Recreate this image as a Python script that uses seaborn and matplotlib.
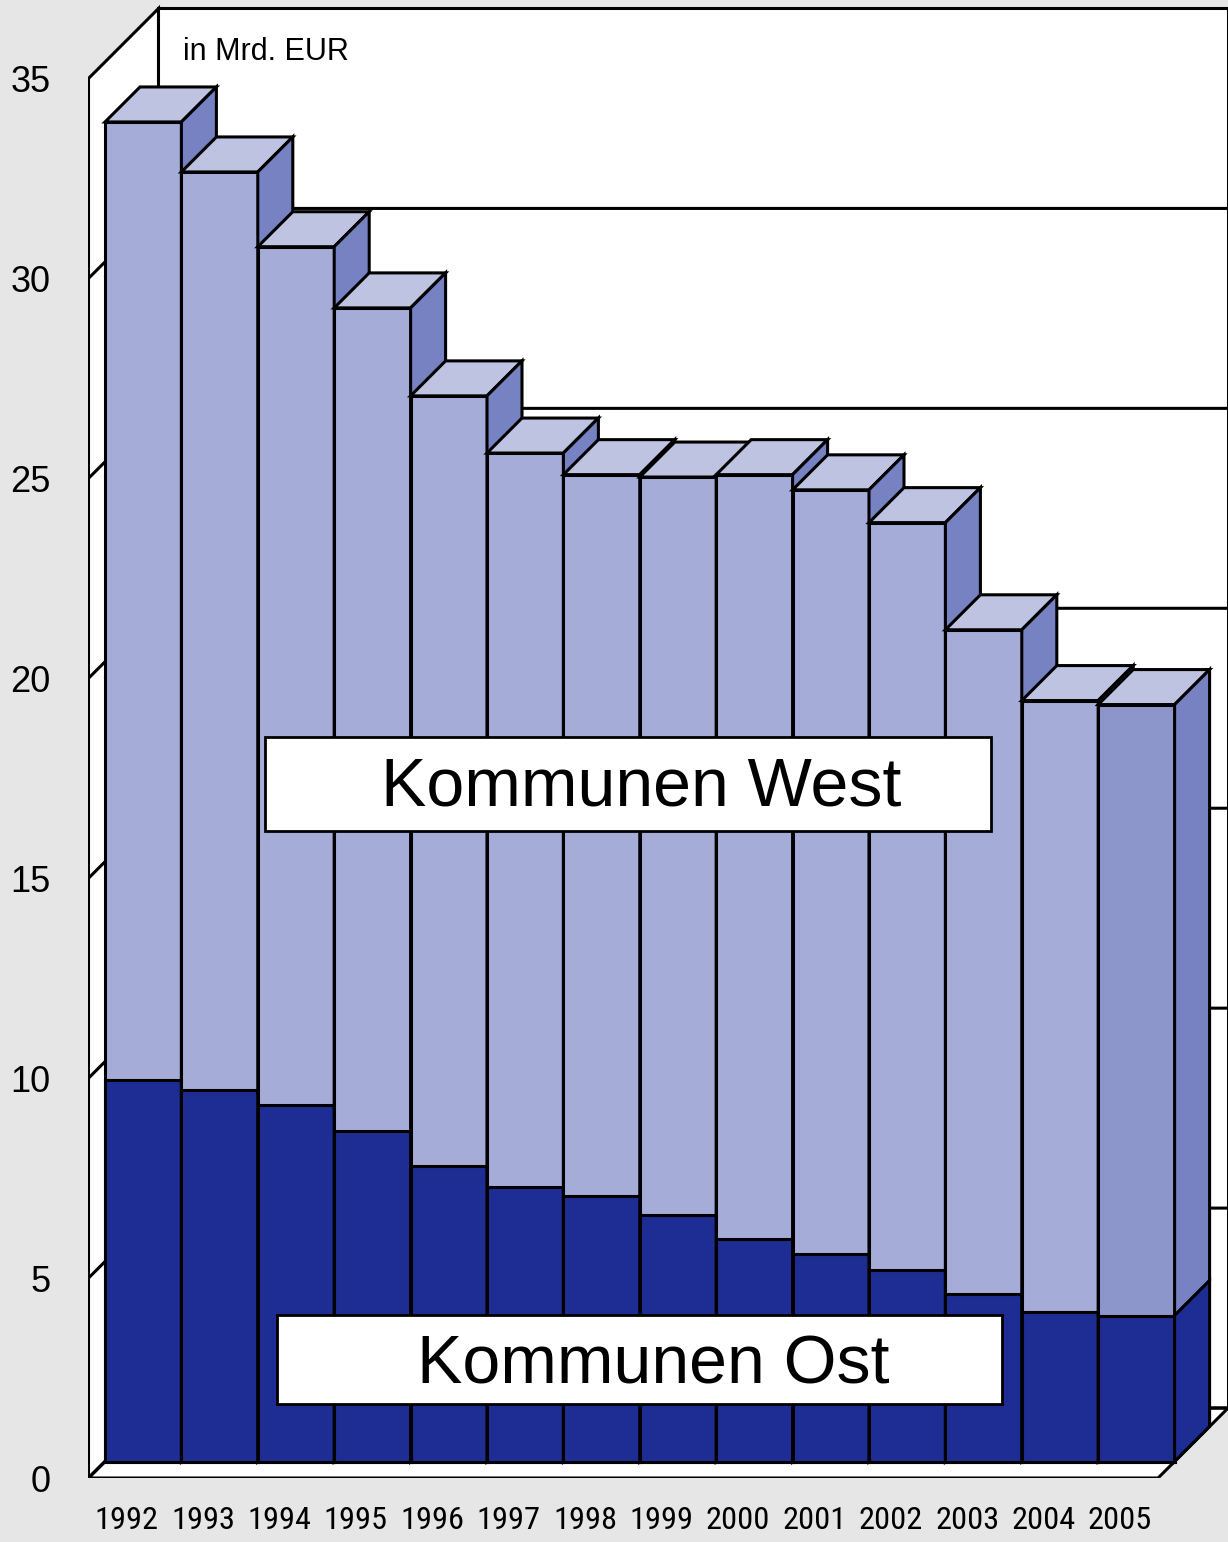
import numpy as np
import pandas as pd
import matplotlib
matplotlib.use("Agg")
import matplotlib.pyplot as plt
import seaborn as sns
from matplotlib import font_manager
from matplotlib.font_manager import FontProperties
from matplotlib.patches import Polygon, Rectangle

years = ['1992', '1993', '1994', '1995', '1996', '1997', '1998',
         '1999', '2000', '2001', '2002', '2003', '2004', '2005']
ost = [9.55, 9.28, 8.92, 8.26, 7.38, 6.86, 6.65, 6.17, 5.57, 5.20, 4.79, 4.19, 3.75, 3.65]
west = [23.95, 22.97, 21.46, 20.59, 19.27, 18.36, 18.03, 18.45, 19.11, 19.10, 18.69, 16.61, 15.28, 15.28]
y_ticks = [0, 5, 10, 15, 20, 25, 30, 35]

west_front = '#a5acd8'
west_front_last = '#8c96cb'
west_top = '#bec3e2'
west_side = '#7682c2'
ost_col = '#1e2d94'
bg = '#e6e6e6'

sns.set_theme(style='white')
plt.rcParams['font.family'] = ['Liberation Sans', 'DejaVu Sans']


def pick_narrow_font():
    # the year labels use a narrow face (Arial Narrow like)
    fonts = [f for f in font_manager.fontManager.ttflist
             if f.style == 'normal' and f.weight in (400, 'normal', 'regular')]
    for want in ['Liberation Sans Narrow', 'Roboto Condensed', 'Open Sans Condensed']:
        for f in fonts:
            if f.name == want:
                return FontProperties(fname=f.fname)
    for f in fonts:
        if f.name == 'DejaVu Sans' and 'condensed' in str(f.stretch):
            return FontProperties(fname=f.fname)
    for f in fonts:
        if 'Condensed' in f.fname or 'Narrow' in f.fname:
            return FontProperties(fname=f.fname)
    return FontProperties(family='Liberation Sans')


df = pd.DataFrame({'Jahr': years, 'Ost': ost, 'West': west})
df['Gesamt'] = df['Ost'] + df['West']

W, H = 1228, 1542
fig = plt.figure(figsize=(W / 100, H / 100), dpi=100, facecolor=bg)
ax = fig.add_axes([88 / W, (H - 1478) / H, (W - 88) / W, 1478 / H])
ax.set_facecolor('none')

# pixel -> data scale, and the pseudo 3d depth offsets (in pixels)
PX = 1 / 76.4
PY = 1 / 40
d_front = -16.5
d_back = 53.5
depth = 35
lw = 2.2


def at(x, y, d):
    return (x + d * PX, y + d * PY)


x0, x1 = -0.5, len(years) - 0.5
top = y_ticks[-1]

# front faces
pal = [west_front] * (len(years) - 1) + [west_front_last]
sns.barplot(data=df, x='Jahr', y='Gesamt', hue='Jahr', palette=pal, legend=False,
            order=years, width=1, errorbar=None, edgecolor='black', linewidth=lw,
            saturation=1, ax=ax)
n_west = len(ax.patches)
sns.barplot(data=df, x='Jahr', y='Ost', order=years, color=ost_col, saturation=1,
            width=1, errorbar=None, edgecolor='black', linewidth=lw, ax=ax)

for k, p in enumerate(list(ax.patches)):
    i = int(round(p.get_x() + p.get_width() / 2))
    p.set_zorder(3 + i * 0.1 + (0.01 if k >= n_west else 0))

# walls and floor
walls = [
    [at(x0, 0, d_front), at(x0, top, d_front), at(x0, top, d_back), at(x0, 0, d_back)],
    [at(x0, 0, d_back), at(x0, top, d_back), at(x1, top, d_back), at(x1, 0, d_back)],
    [at(x0, 0, d_front), at(x1, 0, d_front), at(x1, 0, d_back), at(x0, 0, d_back)],
]
for w in walls:
    ax.add_patch(Polygon(w, closed=True, fc='white', ec='black', lw=lw,
                         joinstyle='miter', zorder=0.5))

for v in y_ticks[:-1]:
    pts = [at(x0, v, d_front), at(x0, v, d_back), at(x1, v, d_back)]
    ax.plot([p[0] for p in pts], [p[1] for p in pts], color='black', lw=lw, zorder=0.6)

# top and side faces
for i, (o, t) in enumerate(zip(df['Ost'], df['Gesamt'])):
    xl, xr = i - 0.5, i + 0.5
    faces = [
        ([at(xl, t, 0), at(xr, t, 0), at(xr, t, depth), at(xl, t, depth)], west_top, 0.02),
        ([at(xr, o, 0), at(xr, t, 0), at(xr, t, depth), at(xr, o, depth)], west_side, 0.03),
        ([at(xr, 0, 0), at(xr, o, 0), at(xr, o, depth), at(xr, 0, depth)], ost_col, 0.03),
    ]
    for pts, c, dz in faces:
        ax.add_patch(Polygon(pts, closed=True, fc=c, ec='black', lw=lw,
                             joinstyle='miter', zorder=3 + i * 0.1 + dz))

ax.set_xlim(-0.7225, 14.199)
ax.set_ylim(-0.4, 36.55)
ax.set_xticks(np.arange(len(years)) + d_front * PX, labels=years)
ax.set_yticks(np.array(y_ticks) + d_front * PY, labels=[str(v) for v in y_ticks])
ax.tick_params(axis='both', length=0, colors='black')
ax.tick_params(axis='y', pad=27, labelsize=26)
ax.tick_params(axis='x', pad=20)
for s in ax.spines.values():
    s.set_visible(False)
ax.set_xlabel('')
ax.set_ylabel('')

# year labels: narrow face, size fitted so "1992" is about 64 px wide
year_fp = pick_narrow_font()
renderer = fig.canvas.get_renderer()
probe = fig.text(0, 0, years[0], fontproperties=year_fp, fontsize=25)
w25 = probe.get_window_extent(renderer).width
probe.remove()
year_size = min(27, 25 * 64 / w25)
for lab in ax.get_xticklabels():
    lab.set_fontproperties(year_fp)
    lab.set_fontsize(year_size)

# labels
boxes = [(265, 737, 991, 831, 641, 805, 'Kommunen West'),
         (277, 1315, 1002, 1404, 653, 1384, 'Kommunen Ost')]
for l, t, r, b, cx, base, txt in boxes:
    ax.add_patch(Rectangle((l / W, 1 - b / H), (r - l) / W, (b - t) / H,
                           transform=fig.transFigure, fc='white', ec='black',
                           lw=2, zorder=10, clip_on=False))
    ax.text(cx / W, 1 - base / H, txt, transform=fig.transFigure, ha='center',
            va='baseline', fontsize=49, color='black', zorder=11)

ax.text(183 / W, 1 - 60 / H, 'in Mrd. EUR', transform=fig.transFigure, ha='left',
        va='baseline', fontsize=22, color='black', zorder=11)

fig.savefig('out.png', dpi=100, facecolor=bg)
